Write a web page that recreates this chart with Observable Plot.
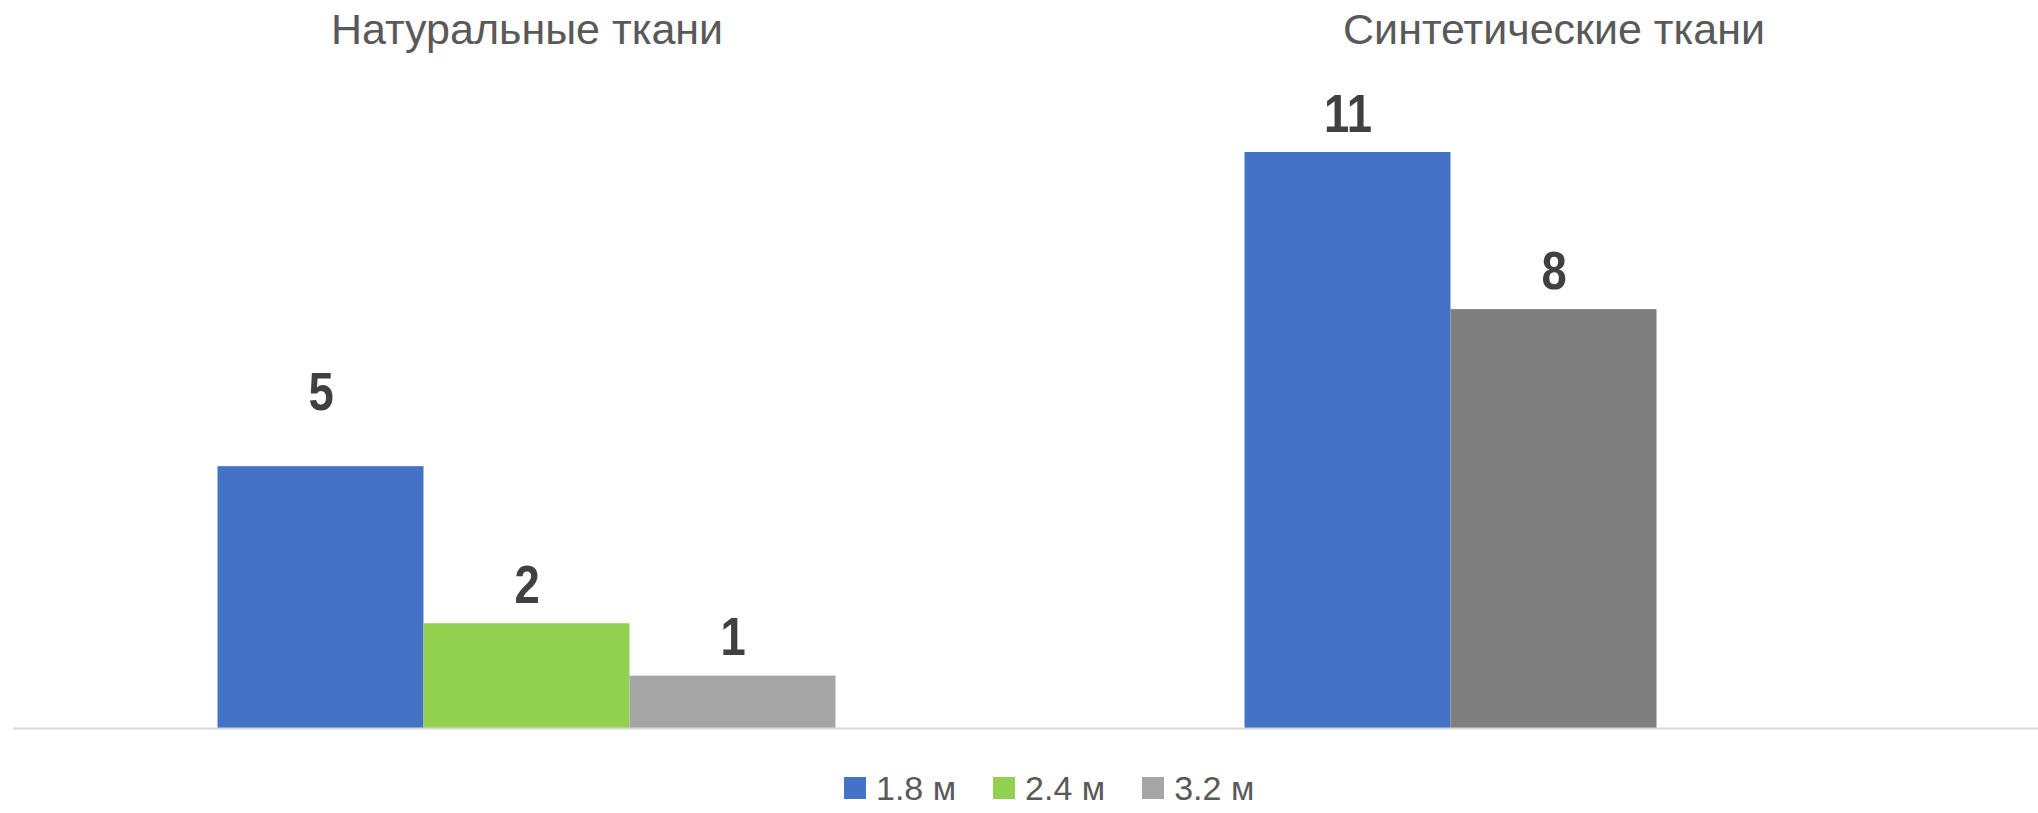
<!DOCTYPE html>
<html>
<head>
<meta charset="utf-8">
<script src="https://cdn.jsdelivr.net/npm/d3@7"></script>
<script src="https://cdn.jsdelivr.net/npm/@observablehq/plot@0.6"></script>
<style>
  html, body { margin: 0; padding: 0; background: #ffffff; }
  body { width: 2038px; height: 813px; overflow: hidden; position: relative; font-family: "Liberation Sans", Arial, sans-serif; }
  #chart { position: absolute; left: 0; top: 0; }
  #legend { position: absolute; left: 0; top: 776px; width: 2038px; height: 41px; display: flex; align-items: center; justify-content: flex-start; padding-left: 844px; box-sizing: border-box; }
  .lg-swatch { margin-right: 37px !important; }
  .lg-swatch > svg { margin-right: 10px !important; }
</style>
</head>
<body>
<div id="chart"></div>
<div id="legend"></div>
<script>
// ---- data ----
const categories = ["Натуральные ткани", "Синтетические ткани"];
const series = ["1.8 м", "2.4 м", "3.2 м"];
const values18 = [5, 11];
const values24 = [2, 8];
const values32 = [1, null];

// ---- styles ----
const seriesColors = ["#4472C4", "#92D050", "#A5A5A5"];
const pointColorOverride = { "Синтетические ткани|2.4 м": "#7F7F7F" };
const raisedLabels = ["Натуральные ткани|1.8 м"];

const seriesValues = [values18, values24, values32];
const data = [];
categories.forEach((c, i) => {
  series.forEach((s, j) => {
    const v = seriesValues[j][i];
    if (v != null) {
      const key = c + "|" + s;
      data.push({ category: c, series: s, value: v, key, color: pointColorOverride[key] || seriesColors[j] });
    }
  });
});
const normalLabels = data.filter(d => !raisedLabels.includes(d.key));
const liftedLabels = data.filter(d => raisedLabels.includes(d.key));

const labelFont = "'Liberation Sans Narrow', 'Arial Narrow', 'Liberation Sans', Arial, sans-serif";
const labelOpts = {
  fx: "category", x: "series", y: "value", text: d => String(d.value),
  lineAnchor: "bottom", fontSize: 54, fontWeight: "bold", fontFamily: labelFont, fill: "#404040",
  ariaDescription: "value-label"
};

const chart = Plot.plot({
  width: 2038,
  height: 760,
  marginLeft: 12.5,
  marginRight: -28.5,
  marginTop: 152,
  marginBottom: 32,
  style: { fontFamily: "'Liberation Sans', Arial, sans-serif", color: "#595959", background: "#ffffff", overflow: "visible" },
  fx: { domain: categories, padding: 0 },
  x: { domain: series, paddingInner: 0, paddingOuter: 0.9927, axis: null },
  y: { domain: [0, 11], axis: null },
  color: { type: "identity" },
  marks: [
    Plot.barY(data, { fx: "category", x: "series", y: "value", fill: "color" }),
    Plot.ruleY([0], { stroke: "#D9D9D9", strokeWidth: 2 }),
    Plot.text(normalLabels, { ...labelOpts, dy: -21 }),
    Plot.text(liftedLabels, { ...labelOpts, dy: -57 }),
    Plot.axisFx({ anchor: "top", tickSize: 0, tickPadding: 109, fontSize: 43, label: null, fill: "#595959" })
  ]
});
document.getElementById("chart").append(chart);

// condense the bold value labels (the original uses a narrow face)
d3.select(chart).selectAll('g[aria-description="value-label"] text').each(function () {
  const len = this.getComputedTextLength();
  if (len > 0) {
    this.setAttribute("textLength", (len * 0.84).toFixed(2));
    this.setAttribute("lengthAdjust", "spacingAndGlyphs");
  }
});

const legend = Plot.legend({
  color: { domain: series, range: seriesColors },
  swatchSize: 22,
  className: "lg",
  style: { fontSize: "34px", color: "#595959", fontFamily: "'Liberation Sans', Arial, sans-serif", background: "transparent" }
});
document.getElementById("legend").append(legend);
</script>
</body>
</html>
